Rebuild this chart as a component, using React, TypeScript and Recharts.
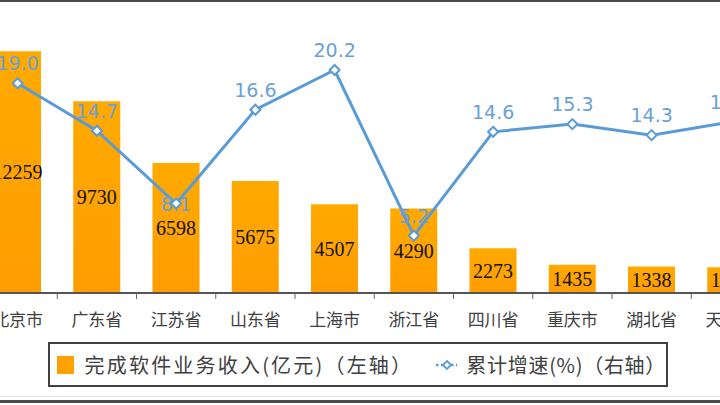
import { ComposedChart, Bar, Line, XAxis, YAxis, LabelList } from 'recharts';

const CATEGORIES = ['北京市', '广东省', '江苏省', '山东省', '上海市', '浙江省', '四川省', '重庆市', '湖北省', '天津市'];
const REVENUE = [12259, 9730, 6598, 5675, 4507, 4290, 2273, 1435, 1338, 1310];
const GROWTH = [19.0, 14.7, 8.1, 16.6, 20.2, 5.2, 14.6, 15.3, 14.3, 15.5];
// the label of this point sits on top of the marker in the source picture
const LABEL_ON_POINT = ['江苏省'];

const data = CATEGORIES.map((name, i) => ({ name, revenue: REVENUE[i], growth: GROWTH[i] }));

const CHART_W = 820;
const CHART_H = 405;
const MARGIN = { top: 17, right: 9.5, left: 18, bottom: 0 };
const BAND = (CHART_W - MARGIN.left - MARGIN.right) / CATEGORIES.length;

const BLUE = '#5B9BD5';
const LABEL_BLUE = '#6A9FD8';
const CJK = '"Noto Sans CJK SC", "Noto Sans", sans-serif';

const CategoryTick = (props: any) => {
  const { x, y, payload } = props;
  return (
    <g>
      <line x1={x + BAND / 2} y1={y} x2={x + BAND / 2} y2={y + 6} stroke="#666" strokeWidth={1} />
      <text x={x} y={y + 25} textAnchor="middle" dominantBaseline="central" fontSize={17} fill="#404040" fontFamily={CJK}>
        {payload.value}
      </text>
    </g>
  );
};

const DiamondDot = (props: any) => {
  const { cx, cy } = props;
  if (cx == null || cy == null) return null;
  const r = 5;
  return (
    <path
      d={`M${cx},${cy - r} L${cx + r},${cy} L${cx},${cy + r} L${cx - r},${cy} Z`}
      fill="#fff"
      stroke={BLUE}
      strokeWidth={2}
    />
  );
};

const GrowthLabel = (props: any) => {
  const { x, y, value, index } = props;
  const onPoint = LABEL_ON_POINT.includes(CATEGORIES[index]);
  return (
    <text
      x={x}
      y={onPoint ? y : y - 20}
      textAnchor="middle"
      dominantBaseline="central"
      fontSize={19}
      fill={LABEL_BLUE}
      fontFamily='"DejaVu Sans", Verdana, sans-serif'
    >
      {Number(value).toFixed(1)}
    </text>
  );
};

export default function App() {
  return (
    <div style={{ position: 'absolute', left: 0, top: 0, width: 720, height: 405, overflow: 'hidden', background: '#fff' }}>
      <div style={{ position: 'absolute', left: 0, top: 0, width: 720, height: 2, background: '#4a4a4a' }} />
      <div style={{ position: 'absolute', left: -40, top: 0 }}>
        <ComposedChart width={CHART_W} height={CHART_H} data={data} margin={MARGIN} barCategoryGap="20%">
          <defs>
            <linearGradient id="barFill" x1="0" y1="0" x2="0" y2="1">
              <stop offset="0%" stopColor="#FFAA00" />
              <stop offset="100%" stopColor="#FF9D00" />
            </linearGradient>
          </defs>
          <XAxis
            dataKey="name"
            interval={0}
            height={112}
            tickSize={0}
            tickMargin={0}
            tickLine={false}
            axisLine={{ stroke: '#555', strokeWidth: 2 }}
            tick={CategoryTick}
          />
          <YAxis yAxisId="left" hide domain={[0, 14000]} />
          <YAxis yAxisId="right" orientation="right" hide domain={[0, 25]} />
          <Bar yAxisId="left" dataKey="revenue" fill="url(#barFill)" barSize={47} isAnimationActive={false}>
            <LabelList
              dataKey="revenue"
              position="center"
              fill="#111"
              fontSize={20}
              fontFamily='"Liberation Serif", "Times New Roman", serif'
            />
          </Bar>
          <Line
            yAxisId="right"
            dataKey="growth"
            stroke={BLUE}
            strokeWidth={3}
            dot={(p: any) => <DiamondDot key={`d-${p.index}`} {...p} />}
            activeDot={false}
            isAnimationActive={false}
          >
            <LabelList dataKey="growth" content={GrowthLabel} />
          </Line>
        </ComposedChart>
      </div>
      <div
        style={{
          position: 'absolute',
          left: 48,
          top: 342,
          width: 620,
          height: 45,
          boxSizing: 'border-box',
          border: '2px solid #404040',
          display: 'flex',
          alignItems: 'center',
          fontFamily: CJK,
          fontSize: 20,
          color: '#404040',
          whiteSpace: 'nowrap',
        }}
      >
        <span style={{ display: 'inline-block', width: 18, height: 18, background: '#FFA200', marginLeft: 7 }} />
        <span style={{ marginLeft: 11, letterSpacing: 2.2 }}>完成软件业务收入(亿元)（左轴）</span>
        <svg width={24} height={12} style={{ marginLeft: 22 }}>
          <line x1={1} y1={6} x2={23} y2={6} stroke={BLUE} strokeWidth={2.5} strokeDasharray="2.5 2.5" />
          <path d="M12,2 L16,6 L12,10 L8,6 Z" fill="#fff" stroke={BLUE} strokeWidth={1.8} />
        </svg>
        <span style={{ marginLeft: 9, letterSpacing: 0.7 }}>累计增速(%)（右轴）</span>
      </div>
      <div style={{ position: 'absolute', left: 0, top: 396, width: 720, height: 1, background: '#e4e4e4' }} />
      <div style={{ position: 'absolute', left: 0, top: 400, width: 720, height: 3, background: '#4a4a4a' }} />
    </div>
  );
}
